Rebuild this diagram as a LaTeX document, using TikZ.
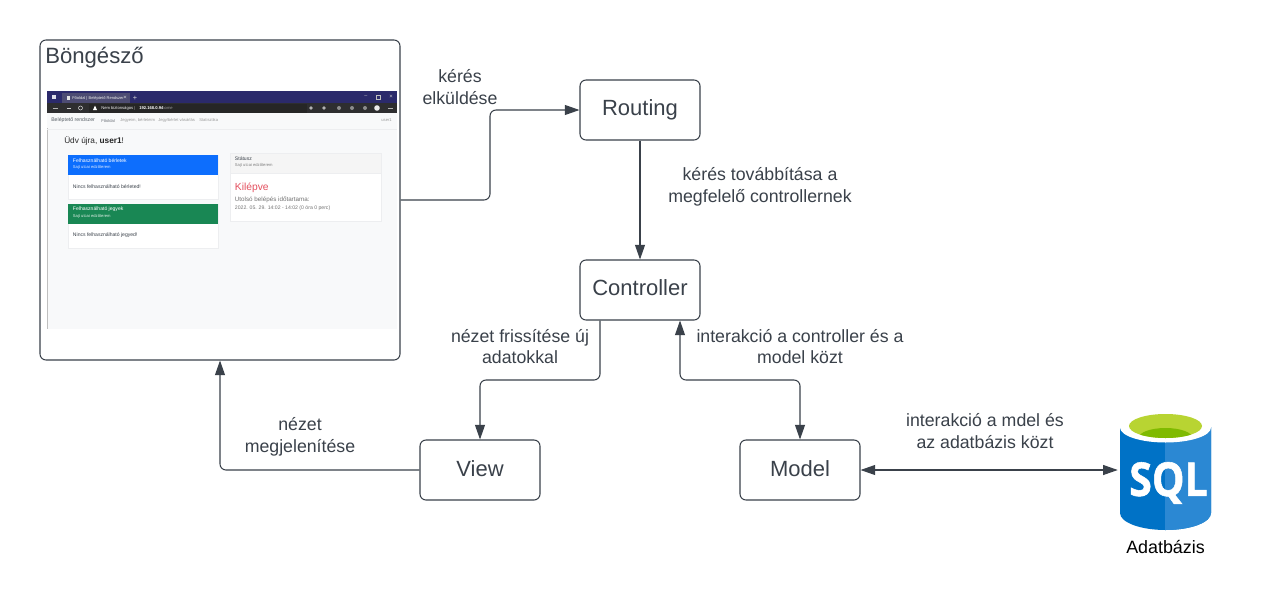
\documentclass[tikz,border=0pt]{standalone}
\usepackage{fontspec}
\setmainfont{Liberation Sans}
\newfontfamily\sqlfont[FakeBold=1.2]{Open Sans}
\usetikzlibrary{arrows.meta}
\definecolor{ink}{HTML}{3A414A}
\definecolor{edgec}{HTML}{3A414A}
\definecolor{pagebg}{HTML}{F8F9FA}
\definecolor{titlebar}{HTML}{2B2A6B}
\definecolor{toolbar}{HTML}{2E2E30}
\definecolor{cardblue}{HTML}{0D6EFD}
\definecolor{cardgreen}{HTML}{198754}
\definecolor{cardline}{HTML}{EDEEF0}
\definecolor{kilep}{HTML}{E4505F}
\definecolor{sqlleft}{HTML}{0072C6}
\definecolor{sqlright}{HTML}{2B88D3}
\definecolor{sqllime}{HTML}{B8D432}
\definecolor{sqlgreen}{HTML}{7FBA00}
\newcommand{\fs}[1]{\fontsize{#1}{1.22\dimexpr #1pt\relax}\selectfont}
\tikzset{
  x=0.75pt,y=-0.75pt,
  boxn/.style={draw=edgec,line width=0.8pt,rounded corners=4.5pt,fill=white,text=ink,font=\fs{16.5},minimum width=90pt,minimum height=45pt,inner sep=0pt},
  conn/.style={draw=edgec,line width=0.8pt,rounded corners=4.5pt,-{Triangle[length=11pt,width=7.5pt]}},
  both/.style={conn,{Triangle[length=11pt,width=7.5pt]}-{Triangle[length=11pt,width=7.5pt]}},
  lab/.style={text=ink,font=\fs{13.3},align=center,inner sep=0pt},
  tiny/.style={inner sep=0pt,anchor=west,text=#1},
  tiny/.default=ink,
  card/.style={draw=cardline,line width=0.4pt,fill=white},
}
\begin{document}
\begin{tikzpicture}
\useasboundingbox (0,0) rectangle (1281,600);
\fill[white] (0,0) rectangle (1281,600);

% Browser box
\node[boxn,minimum width=270pt,minimum height=240pt] (browser) at (220,200) {};
\node[anchor=west,inner sep=0pt,text=ink,font=\fs{16.6}] (browsertitle) at (45,57.5) {Böngésző};

% Screenshot
\fill[pagebg] (47,91) rectangle (397,329);
\draw[gray!50,line width=0.3pt] (47.2,113) -- (47.2,329);
\fill[titlebar] (47,91) rectangle (397,103);
\fill[toolbar] (47,103) rectangle (397,113);
\fill[white!85!titlebar] (52,95) rectangle (56,99);
\fill[titlebar!60!gray] (62,93) rectangle (130,103);
\fill[white!80!gray] (67,95.5) rectangle (70,100);
\node[tiny=white!85!gray,font=\fs{3}] (tabtitle) at (72,98) {Főoldal | Beléptető Rendszer};
\node[tiny=white!70!gray,font=\fs{4.5}] (tabx) at (123,98) {×};
\node[tiny=white!70!gray,font=\fs{5.5}] (tabplus) at (132.5,98) {+};
\node[tiny=white!60!gray,font=\fs{4}] (winmin) at (364,97) {–};
\draw[white!50!gray,line width=0.35pt] (376,95.5) rectangle (380,99.5);
\node[tiny=white!60!gray,font=\fs{4.5}] (winx) at (389,97) {×};
\fill[gray!60] (53,107.5) rectangle (58,108.5);
\fill[gray!40] (67,107.5) rectangle (71,108.5);
\draw[white!70!gray,line width=0.4pt] (80.5,108) circle (2);
\fill[black!85] (89,103.5) rectangle (307,112.5);
\fill[white] (93,110) -- (95,105.5) -- (97,110) -- cycle;
\node[tiny=white!90!gray,font=\fs{3.1}] (nemb) at (101,108) {Nem biztonságos};
\node[tiny=gray!60,font=\fs{3}] (barsep) at (134,108) {|};
\node[tiny=white,font=\bfseries\fs{3.1}] (addr) at (139,108) {192.168.0.94};
\node[tiny=gray!80,font=\fs{3.1}] (addr2) at (161,108) {/home};
\foreach \ix in {311,324}{\fill[gray!60] (\ix,108) circle (1.8);}
\foreach \ix in {339,352,365}{\fill[gray!90] (\ix,108) circle (2);}
\fill[white!85!gray] (377,108) circle (2.8);
\fill[gray!60] (388,107.6) rectangle (393,108.4);
% nav
\fill[pagebg] (47,113) rectangle (397,128);
\draw[cardline,line width=0.4pt] (47,129) -- (397,129);
\node[tiny=ink!85,font=\fs{3.9}] (brand) at (51,120.5) {Beléptető rendszer};
\node[tiny=ink!75,font=\fs{3.1}] (nav1) at (101,120.5) {Főoldal};
\node[tiny=gray!80,font=\fs{3.1}] (nav2) at (120,120.5) {Jegyeim, bérleteim};
\node[tiny=gray!80,font=\fs{3.1}] (nav3) at (158,120.5) {Jegy/bérlet vásárlás};
\node[tiny=gray!80,font=\fs{3.1}] (nav4) at (199,120.5) {Statisztika};
\node[inner sep=0pt,anchor=east,text=gray!80,font=\fs{3.1}] (nav5) at (392,120.5) {user1};
\node[tiny=black!85,font=\fs{6.2}] (welcome) at (64,141) {Üdv újra, \textbf{user1}!};
% blue card
\filldraw[card] (68,155) rectangle (218,199);
\fill[cardblue] (68,155) rectangle (218,175);
\node[tiny=white,font=\fs{3.8}] (c1t) at (72.7,160.5) {Felhasználható bérletek};
\node[tiny=white!85!cardblue,font=\fs{3.1}] (c1s) at (72.7,167.5) {Sajt utcai edzőterem};
\node[tiny=ink,font=\fs{3.8}] (c1b) at (72.7,187) {Nincs felhasználható bérleted!};
% green card
\filldraw[card] (68,204) rectangle (218,248);
\fill[cardgreen] (68,204) rectangle (218,223.5);
\node[tiny=white,font=\fs{3.8}] (c2t) at (72.7,209.5) {Felhasználható jegyek};
\node[tiny=white!85!cardgreen,font=\fs{3.1}] (c2s) at (72.7,216.5) {Sajt utcai edzőterem};
\node[tiny=ink,font=\fs{3.8}] (c2b) at (72.7,235.5) {Nincs felhasználható jegyed!};
% status card
\filldraw[card] (230,153) rectangle (381,221);
\filldraw[card,fill=black!4] (230,153) rectangle (381,173);
\node[tiny=ink,font=\fs{3.8}] (c3t) at (234.7,158.5) {Státusz};
\node[tiny=gray,font=\fs{3.1}] (c3s) at (234.7,165.5) {Sajt utcai edzőterem};
\node[tiny=kilep,font=\fs{7.7}] (c3k) at (234.7,187.5) {Kilépve};
\node[tiny=gray!90!black,font=\fs{4.7}] (c3u) at (234.7,199.5) {Utolsó belépés időtartama:};
\node[tiny=gray!90!black,font=\fs{3.85}] (c3d) at (234.7,208.5) {2022. 05. 29. 14:02 - 14:02 (0 óra 0 perc)};

% Boxes
\node[boxn] (routing) at (640,110) {\raisebox{0.5pt}{Routing}};
\node[boxn] (controller) at (640,290) {\raisebox{3pt}{Controller}};
\node[boxn] (view) at (480,470) {\raisebox{2.6pt}{View}};
\node[boxn] (model) at (800,470) {\raisebox{2.6pt}{Model}};

% SQL icon
\fill[sqlleft] (1120,427) -- (1211,427) -- (1211,513)
  arc[start angle=0,end angle=180,x radius=45.5,y radius=17] -- cycle;
\begin{scope}
\clip (1165,400) rectangle (1215,540);
\fill[sqlright] (1120,427) -- (1211,427) -- (1211,513)
  arc[start angle=0,end angle=180,x radius=45.5,y radius=17] -- cycle;
\end{scope}
\fill[white] (1165.5,427.5) ellipse[x radius=45.5,y radius=15];
\fill[sqllime] (1165.5,426) ellipse[x radius=36.5,y radius=12];
\begin{scope}
\clip (1165.5,426) ellipse[x radius=36.5,y radius=12];
\fill[sqlgreen] (1165.5,438) ellipse[x radius=27,y radius=10];
\end{scope}
\node[inner sep=0pt,text=white,font=\sqlfont\bfseries\fs{35},xscale=0.88] (sqltext) at (1168.5,483) {SQL};
\node[inner sep=0pt,minimum width=68.25pt,minimum height=90pt] (sql) at (1165.5,470) {};
\node[inner sep=0pt,text=black,font=\fs{13.4}] (sqllabel) at (1165.5,547) {Adatbázis};

% Connectors
\draw[conn] (browser.east) -| (490,110) -- (routing.west);
\draw[conn] (routing.south) -- (controller.north);
\draw[conn] ([xshift=-30pt]controller.south) |- (480,380) -- (view.north);
\draw[conn] (view.west) -| (browser.south);
\draw[both] ([xshift=30pt]controller.south) |- (800,380) -- (model.north);
\draw[both,shorten >=1.5pt] (model.east) -- (sql.west);

% Labels
\node[lab] (l1) at (460,87) {kérés\\elküldése};
\node[lab] (l2) at (760,186.5) {kérés továbbítása a\\megfelelő controllernek};
\node[lab] (l3) at (520,346.5) {nézet frissítése új\\adatokkal};
\node[lab] (l4) at (800,346.5) {interakció a controller és a\\model közt};
\node[lab] (l5) at (300,437) {nézet\\megjelenítése};
\node[lab] (l6) at (985,431) {interakció a mdel és\\az adatbázis közt};
\end{tikzpicture}
\end{document}
